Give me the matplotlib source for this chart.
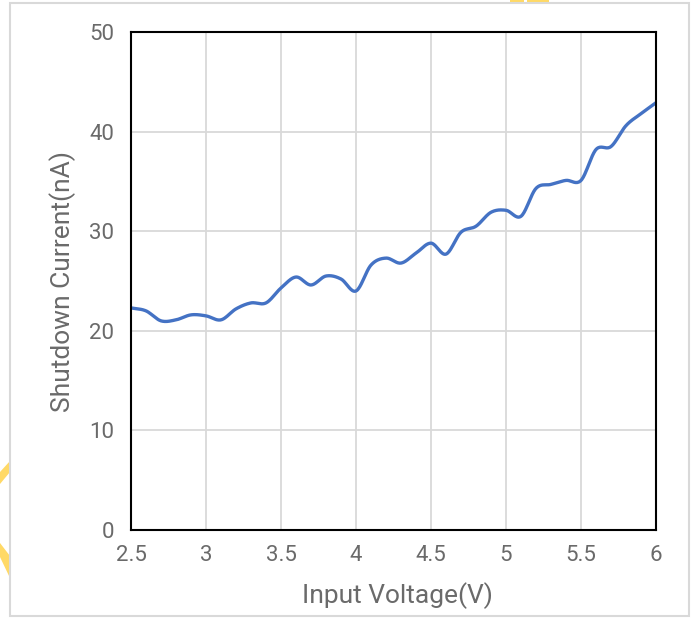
import numpy as np
import matplotlib
matplotlib.use("Agg")
import matplotlib.pyplot as plt
from matplotlib.patches import Rectangle, Polygon

# Shutdown current measured against input voltage, 0.1 V steps
voltage = [2.5, 2.6, 2.7, 2.8, 2.9, 3.0, 3.1, 3.2, 3.3, 3.4, 3.5, 3.6,
           3.7, 3.8, 3.9, 4.0, 4.1, 4.2, 4.3, 4.4, 4.5, 4.6, 4.7, 4.8,
           4.9, 5.0, 5.1, 5.2, 5.3, 5.4, 5.5, 5.6, 5.7, 5.8, 5.9, 6.0]
current_na = [22.3, 22.0, 21.0, 21.1, 21.6, 21.5, 21.1, 22.2, 22.8, 22.8, 24.3, 25.4,
              24.6, 25.5, 25.2, 24.0, 26.6, 27.3, 26.8, 27.8, 28.8, 27.7, 29.9, 30.5,
              31.9, 32.1, 31.5, 34.3, 34.7, 35.1, 35.1, 38.2, 38.5, 40.6, 41.8, 42.9]

x_ticks = [2.5, 3, 3.5, 4, 4.5, 5, 5.5, 6]
x_tick_labels = ["2.5", "3", "3.5", "4", "4.5", "5", "5.5", "6"]
y_ticks = [0, 10, 20, 30, 40, 50]


def smooth(xs, ys, n=20):
    # Catmull-Rom curve through every point (spreadsheet style smoothed line)
    xs = np.asarray(xs, float)
    ys = np.asarray(ys, float)
    px = np.concatenate([[2 * xs[0] - xs[1]], xs, [2 * xs[-1] - xs[-2]]])
    py = np.concatenate([[2 * ys[0] - ys[1]], ys, [2 * ys[-1] - ys[-2]]])
    t = np.linspace(0, 1, n, endpoint=False)
    out_x, out_y = [], []
    for i in range(1, len(px) - 2):
        for p, out in ((px, out_x), (py, out_y)):
            p0, p1, p2, p3 = p[i - 1], p[i], p[i + 1], p[i + 2]
            out.extend(0.5 * (2 * p1 + (-p0 + p2) * t
                              + (2 * p0 - 5 * p1 + 4 * p2 - p3) * t ** 2
                              + (-p0 + 3 * p1 - 3 * p2 + p3) * t ** 3))
    out_x.append(xs[-1])
    out_y.append(ys[-1])
    return np.array(out_x), np.array(out_y)


plt.rcParams['font.family'] = ['Roboto', 'DejaVu Sans']
W, H = 694, 618
fig = plt.figure(figsize=(W / 100, H / 100), dpi=100)


def px(x, y):
    # pixel position (top-left origin) to figure fraction
    return (x / W, 1 - y / H)


# yellow bits of a logo peeking out behind the chart
yellow = "#FFD966"
for pts in ([(0, 472), (10, 461), (10, 472), (0, 484)],
            [(0, 543), (10, 556), (10, 578), (0, 557)],
            [(510, 0), (524, 0), (524, 2), (510, 2)],
            [(527, 0), (549, 0), (549, 2), (527, 2)]):
    fig.patches.append(Polygon([px(*p) for p in pts], closed=True,
                               transform=fig.transFigure, facecolor=yellow,
                               edgecolor="none", zorder=-2))

# light grey chart-area border
fig.patches.append(Rectangle(px(10, 616), 679 / W, 613 / H,
                             transform=fig.transFigure, fill=False,
                             edgecolor="#D9D9D9", linewidth=1.5, zorder=-1))

ax = fig.add_axes([131 / W, 88 / H, 525 / W, 498 / H])

sx, sy = smooth(voltage, current_na)
ax.plot(sx, sy, color="#4472C4", linewidth=2.4, solid_capstyle="round")

ax.set_xlim(2.5, 6)
ax.set_ylim(0, 50)
ax.set_xticks(x_ticks)
ax.set_xticklabels(x_tick_labels)
ax.set_yticks(y_ticks)
ax.grid(True, color="#D9D9D9", linewidth=1.3)
ax.set_axisbelow(True)
for s in ax.spines.values():
    s.set_color("black")
    s.set_linewidth(1.5)
ax.tick_params(length=0, labelsize=16, labelcolor="#6a6a6a")
ax.tick_params(axis="x", pad=11)
ax.tick_params(axis="y", pad=12)

ax.set_xlabel("Input Voltage(V)", fontsize=19, color="#6a6a6a", va="center")
ax.set_ylabel("Shutdown Current(nA)", fontsize=19, color="#6a6a6a", va="center")
ax.xaxis.set_label_coords(0.508, -0.131)
ax.yaxis.set_label_coords(-0.131, 0.5)

fig.savefig("out.png", dpi=100)
